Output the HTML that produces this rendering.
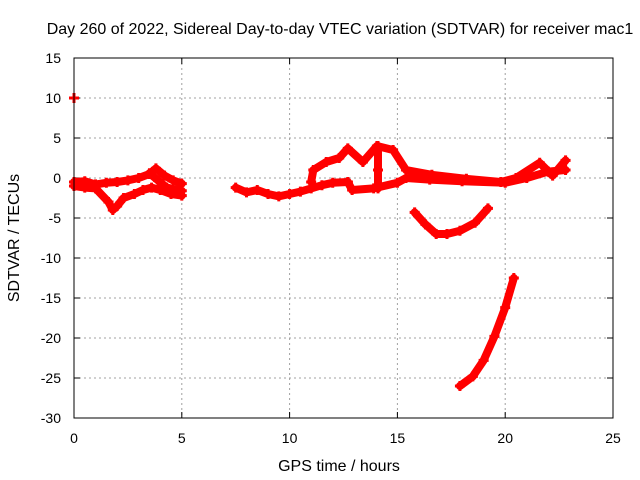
<!DOCTYPE html>
<html><head><meta charset="utf-8"><style>
html,body{margin:0;padding:0;background:#fff}
svg{display:block;font-family:"Liberation Sans",sans-serif}
</style></head><body>
<svg id="chart" width="640" height="480">
<rect width="640" height="480" fill="#fff"/>
<text x="340" y="34" font-size="16" text-anchor="middle">Day 260 of 2022, Sidereal Day-to-day VTEC variation (SDTVAR) for receiver mac1</text>
<g id="grid"></g><g id="axes"></g><g id="marks"></g>
<rect x="74" y="58" width="539" height="360" fill="none" stroke="#000" stroke-width="1"/>
<text x="339" y="471" font-size="16" text-anchor="middle">GPS time / hours</text>
<text transform="translate(19,238) rotate(-90)" font-size="16" text-anchor="middle">SDTVAR / TECUs</text>
</svg>
<script>
const xTicks=[0,5,10,15,20,25];
const yTicks=[15,10,5,0,-5,-10,-15,-20,-25,-30];
const seriesUpperEarly=[[0,-0.5],[0.5,-0.4],[1,-0.8],[1.5,-0.6],[2,-0.5],[2.5,-0.3],[3,0],[3.5,0.5],[3.8,1.2],[4.2,0.3],[4.6,-0.3],[5,-0.7]];
const seriesLowerEarly=[[0,-1],[0.5,-1.2],[1,-1.3],[1.6,-3],[1.8,-4],[2.0,-3.5],[2.3,-2.5],[2.8,-2],[3.2,-1.5],[3.6,-1.2],[4,-1.5],[4.5,-2],[5,-2.2]];
const seriesBranchEarly=[[3.5,0.6],[3.9,-0.3],[4.3,-1.2],[5,-1.6]];
const seriesMid=[[7.5,-1.2],[8,-1.8],[8.5,-1.5],[9,-2],[9.5,-2.3],[10,-2],[10.5,-1.7],[11,-1.3],[11.5,-0.9],[12,-0.6],[12.7,-0.5]];
const seriesUpperMid=[[11,-0.5],[11.1,1],[11.7,2],[12.3,2.5],[12.7,3.7],[13.4,2],[14.05,4],[14.8,3.5],[15.4,1],[16.6,0.4],[18.2,-0.1],[19.8,-0.5],[20.5,0],[21.6,1.9],[22.2,0.3],[22.8,2.2]];
const seriesLowerLoop=[[12.7,-0.5],[12.9,-1.5],[13.9,-1.3],[15,-0.6],[15.4,0],[16.5,-0.2],[18,-0.4],[20,-0.6],[21,0],[22,0.8],[22.8,1]];
const seriesVertical=[[14.1,4],[14.1,1],[14.1,-1.3]];
const seriesDip=[[15.8,-4.3],[16.3,-5.8],[16.8,-7],[17.3,-7],[17.9,-6.6],[18.6,-5.6],[19.2,-3.8]];
const seriesSteep=[[17.9,-26],[18.5,-24.8],[19,-22.8],[19.5,-19.8],[20,-16.2],[20.4,-12.5]];
const seriesOutlier=[[0,10]];
const allSeries=[seriesUpperEarly,seriesLowerEarly,seriesBranchEarly,seriesMid,seriesUpperMid,seriesLowerLoop,seriesVertical,seriesDip,seriesSteep,seriesOutlier];
const NS='http://www.w3.org/2000/svg';
const X=h=>74+h*(539/25);
const Y=v=>58+(15-v)*8;
function mk(t,a,p){const e=document.createElementNS(NS,t);for(const k in a)e.setAttribute(k,a[k]);p.appendChild(e);return e;}
const grid=document.getElementById('grid'),axes=document.getElementById('axes'),marks=document.getElementById('marks');
xTicks.forEach(t=>{
 if(t>0&&t<25){const g=mk('line',{x1:X(t),x2:X(t),y1:58,y2:418,stroke:'#a0a0a0','stroke-dasharray':'2,3'},grid);
 
 }
 mk('line',{x1:X(t),x2:X(t),y1:418,y2:412,stroke:'#000'},axes);
 mk('line',{x1:X(t),x2:X(t),y1:58,y2:64,stroke:'#000'},axes);
 const l=mk('text',{x:X(t),y:443,'font-size':14,'text-anchor':'middle'},axes);l.textContent=t;
 
 
});
yTicks.forEach(t=>{
 if(t<15&&t>-30){const g=mk('line',{x1:74,x2:613,y1:Y(t),y2:Y(t),stroke:'#a0a0a0','stroke-dasharray':'2,3'},grid);
 
 }
 mk('line',{x1:74,x2:80,y1:Y(t),y2:Y(t),stroke:'#000'},axes);
 mk('line',{x1:613,x2:607,y1:Y(t),y2:Y(t),stroke:'#000'},axes);
 const l=mk('text',{x:61,y:Y(t)+5,'font-size':14,'text-anchor':'end'},axes);l.textContent=t;
 
 
});
allSeries.forEach((s,i)=>{
 if(s.length>1){const pl=mk('polyline',{points:s.map(p=>X(p[0])+','+Y(p[1])).join(' '),fill:'none',stroke:'#f00','stroke-width':8,'stroke-linejoin':'round','stroke-linecap':'round'},marks);
 
 }
 s.forEach(p=>{const x=X(p[0]),y=Y(p[1]);
  const m=mk('path',{d:`M${x-5},${y}H${x+5}M${x},${y-5}V${y+5}`,stroke:'#f00','stroke-width':3},marks);
  
  
 });
});
</script>
</body></html>
